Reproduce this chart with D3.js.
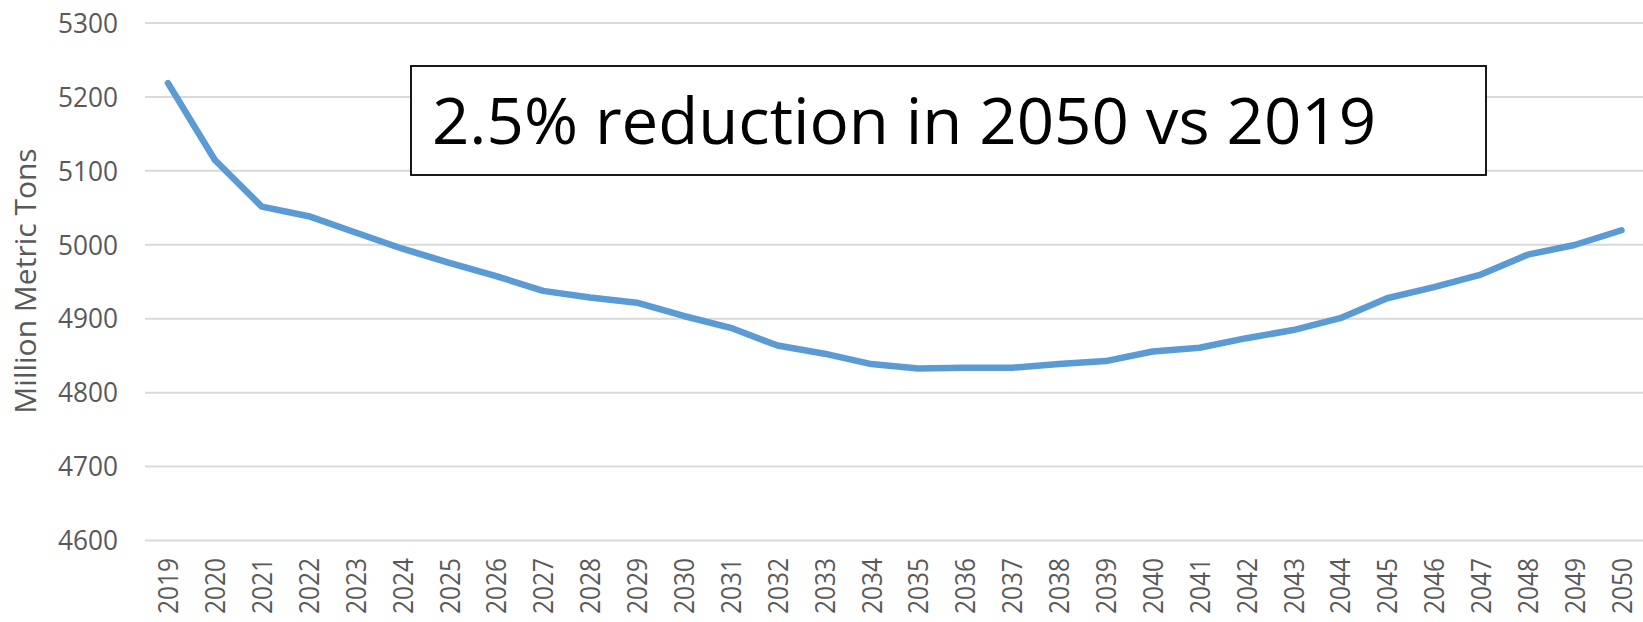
<!DOCTYPE html>
<html>
<head>
<meta charset="utf-8">
<script src="https://cdn.jsdelivr.net/npm/d3@7"></script>
<style>
  html, body { margin: 0; padding: 0; background: #fff; }
  svg { display: block; }
</style>
</head>
<body>
<svg id="chart" width="1643" height="622"></svg>
<script>
// Emissions projection, million metric tons per year
const years = [2019, 2020, 2021, 2022, 2023, 2024, 2025, 2026, 2027, 2028, 2029,
               2030, 2031, 2032, 2033, 2034, 2035, 2036, 2037, 2038, 2039, 2040,
               2041, 2042, 2043, 2044, 2045, 2046, 2047, 2048, 2049, 2050];
const emissions = [5218, 5114, 5051, 5038, 5016, 4994, 4975, 4957, 4937, 4928, 4921,
                   4903, 4887, 4863, 4852, 4838, 4832, 4833, 4833, 4838, 4842, 4855,
                   4860, 4873, 4884, 4900, 4927, 4942, 4959, 4986, 4999, 5019];
const yTicks = [4600, 4700, 4800, 4900, 5000, 5100, 5200, 5300];
const yTitle = "Million Metric Tons";
const note = "2.5% reduction in 2050 vs 2019";

const svg = d3.select("#chart");
const plot = { left: 145, right: 1643, top: 22.5, bottom: 540 };

const x = d3.scalePoint()
  .domain(years)
  .range([168, 1621.5]);

const y = d3.scaleLinear()
  .domain([4600, 5300])
  .range([plot.bottom, plot.top]);

const labelFont = "'Open Sans', 'Noto Sans', sans-serif";
const gray = "#595959";

// Horizontal gridlines and value labels
const yAxis = d3.axisLeft(y)
  .tickValues(yTicks)
  .tickSize(-(plot.right - plot.left))
  .tickPadding(27)
  .tickFormat(d3.format("d"));

const gy = svg.append("g")
  .attr("transform", `translate(${plot.left},0)`)
  .call(yAxis);
gy.select(".domain").remove();
gy.selectAll(".tick line")
  .attr("stroke", "#d9d9d9")
  .attr("stroke-width", 2);
gy.selectAll(".tick text")
  .attr("fill", gray)
  .attr("font-family", labelFont)
  .attr("font-size", 27)
  .attr("textLength", 60)
  .attr("lengthAdjust", "spacingAndGlyphs")
  .attr("dy", "0.36em");

// Category axis with rotated year labels
const xAxis = d3.axisBottom(x).tickSize(0).tickPadding(0);
const gx = svg.append("g")
  .attr("transform", `translate(0,${plot.bottom})`)
  .call(xAxis);
gx.select(".domain").remove();
gx.selectAll(".tick text")
  .attr("fill", gray)
  .attr("font-family", labelFont)
  .attr("font-size", 27)
  .attr("textLength", 56)
  .attr("lengthAdjust", "spacingAndGlyphs")
  .attr("text-anchor", "end")
  .attr("transform", "translate(0,18) rotate(-90)")
  .attr("x", 0)
  .attr("y", 0)
  .attr("dy", "0.36em");

// Y axis title
svg.append("text")
  .attr("transform", `translate(36,281) rotate(-90)`)
  .attr("text-anchor", "middle")
  .attr("fill", gray)
  .attr("font-family", labelFont)
  .attr("font-size", 30)
  .text(yTitle);

// Emissions line
const line = d3.line()
  .x((d, i) => x(years[i]))
  .y(d => y(d));

svg.append("path")
  .datum(emissions)
  .attr("fill", "none")
  .attr("stroke", "#5b9bd5")
  .attr("stroke-width", 6.5)
  .attr("stroke-linejoin", "round")
  .attr("stroke-linecap", "round")
  .attr("d", line);

// Annotation box
const box = svg.append("g");
box.append("rect")
  .attr("x", 411)
  .attr("y", 66)
  .attr("width", 1075)
  .attr("height", 109)
  .attr("fill", "#fff")
  .attr("stroke", "#000")
  .attr("stroke-width", 1.8);
box.append("text")
  .attr("x", 432)
  .attr("y", 143.5)
  .attr("fill", "#000")
  .attr("font-family", labelFont)
  .attr("font-size", 64)
  .attr("textLength", 944)
  .attr("lengthAdjust", "spacingAndGlyphs")
  .text(note);
</script>
</body>
</html>
